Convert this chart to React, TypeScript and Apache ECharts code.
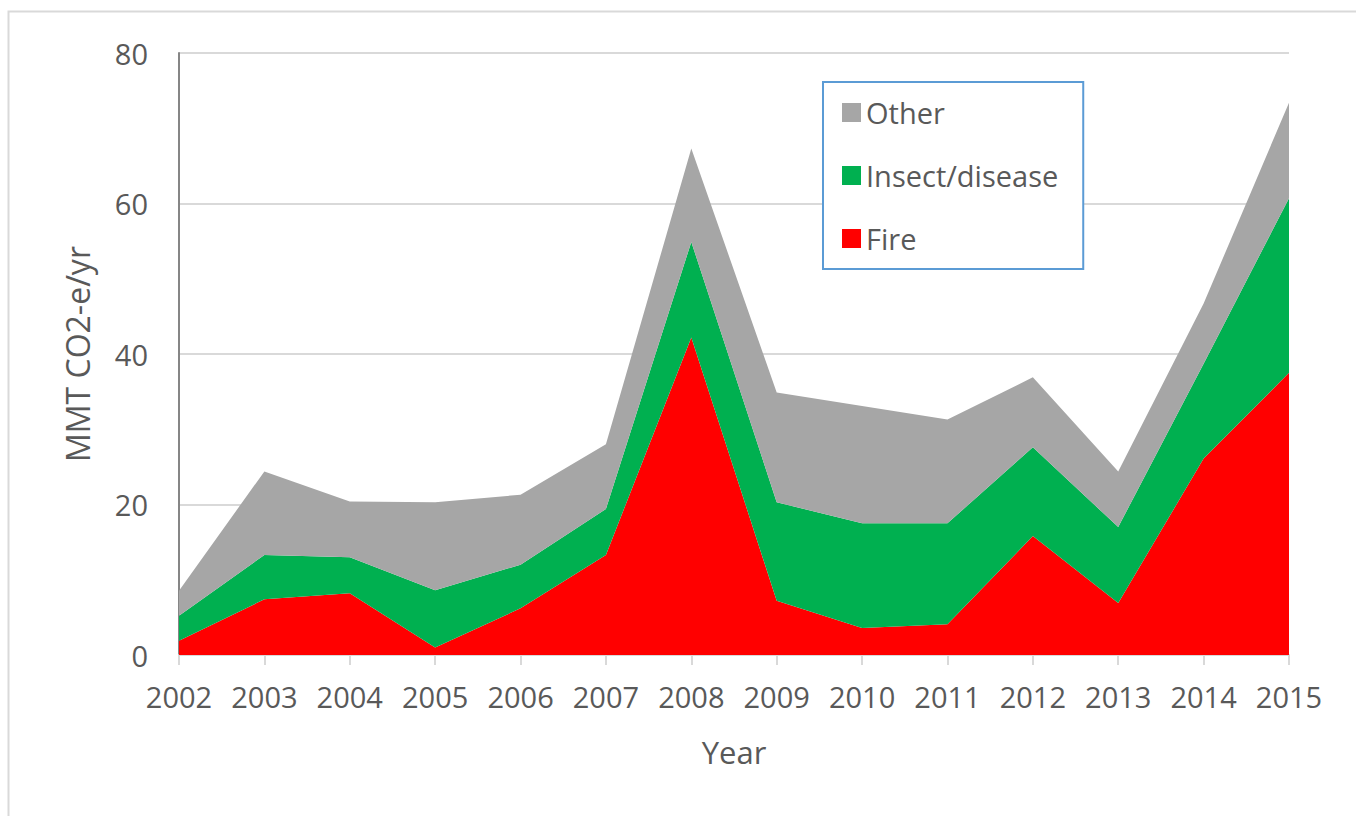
import React, { useEffect, useRef } from "react";
import * as echarts from "echarts";

const years = ["2002", "2003", "2004", "2005", "2006", "2007", "2008", "2009", "2010", "2011", "2012", "2013", "2014", "2015"];
const fire = [1.9, 7.4, 8.2, 1.0, 6.2, 13.3, 42.2, 7.2, 3.6, 4.1, 15.8, 6.9, 26.1, 37.5];
const insect = [3.3, 5.9, 4.8, 7.6, 5.8, 6.1, 12.7, 13.1, 13.9, 13.4, 11.8, 10.1, 12.6, 23.2];
const other = [3.35, 11.1, 7.4, 11.7, 9.3, 8.6, 12.4, 14.6, 15.6, 13.8, 9.3, 7.4, 8.0, 12.7];

const FONT = "'Open Sans', 'Noto Sans', sans-serif";
const TXT = "#595959";

export default function App() {
  const ref = useRef<HTMLDivElement>(null);
  useEffect(() => {
    if (!ref.current) return;
    const chart = echarts.init(ref.current, null, { renderer: "svg" });
    const mk = (name: string, data: number[], color: string) => ({
      name,
      type: "line",
      stack: "total",
      data,
      symbol: "none",
      lineStyle: { width: 0 },
      areaStyle: { color, opacity: 1 },
      itemStyle: { color },
    });
    chart.setOption({
      animation: false,
      backgroundColor: "#ffffff",
      textStyle: { fontFamily: FONT },
      graphic: [
        {
          type: "rect",
          shape: { x: 8.5, y: 11.5, width: 1400, height: 900 },
          style: { fill: "none", stroke: "#d9d9d9", lineWidth: 2 },
          silent: true,
          z: 0,
        },
      ],
      grid: { left: 179, right: 67, top: 53, bottom: 161 },
      legend: {
        orient: "vertical",
        left: 823,
        top: 82,
        data: ["Other", "Insect/disease", "Fire"],
        icon: "rect",
        itemWidth: 19,
        itemHeight: 19,
        itemGap: 34,
        padding: [16, 25, 16, 19],
        borderColor: "#5b9bd5",
        borderWidth: 2,
        backgroundColor: "#ffffff",
        textStyle: { fontSize: 29, color: TXT, fontFamily: FONT },
      },
      xAxis: {
        type: "category",
        data: years,
        boundaryGap: false,
        name: "Year",
        nameLocation: "middle",
        nameGap: 81,
        nameTextStyle: { fontSize: 31, color: TXT, fontFamily: FONT },
        axisLine: { show: true, lineStyle: { color: "#d9d9d9", width: 2 } },
        axisTick: { show: true, length: 10, interval: 0, lineStyle: { color: "#d9d9d9", width: 2 } },
        axisLabel: { fontSize: 29, color: TXT, margin: 27, interval: 0, hideOverlap: false, fontFamily: FONT },
        splitLine: { show: false },
      },
      yAxis: {
        type: "value",
        min: 0,
        max: 80,
        interval: 20,
        name: "MMT CO2-e/yr",
        nameLocation: "middle",
        nameGap: 86,
        nameTextStyle: { fontSize: 32, color: TXT, fontFamily: FONT },
        axisLine: { show: true, lineStyle: { color: "#868686", width: 2 } },
        axisTick: { show: false },
        axisLabel: { fontSize: 29, color: TXT, margin: 31, fontFamily: FONT },
        splitLine: { show: true, lineStyle: { color: "#d9d9d9", width: 2 } },
      },
      series: [
        mk("Fire", fire, "#ff0000"),
        mk("Insect/disease", insect, "#00b050"),
        mk("Other", other, "#a6a6a6"),
      ],
    });
    return () => chart.dispose();
  }, []);
  return (
    <div
      ref={ref}
      style={{ position: "fixed", left: 0, top: 0, width: 1356, height: 816 }}
    />
  );
}
